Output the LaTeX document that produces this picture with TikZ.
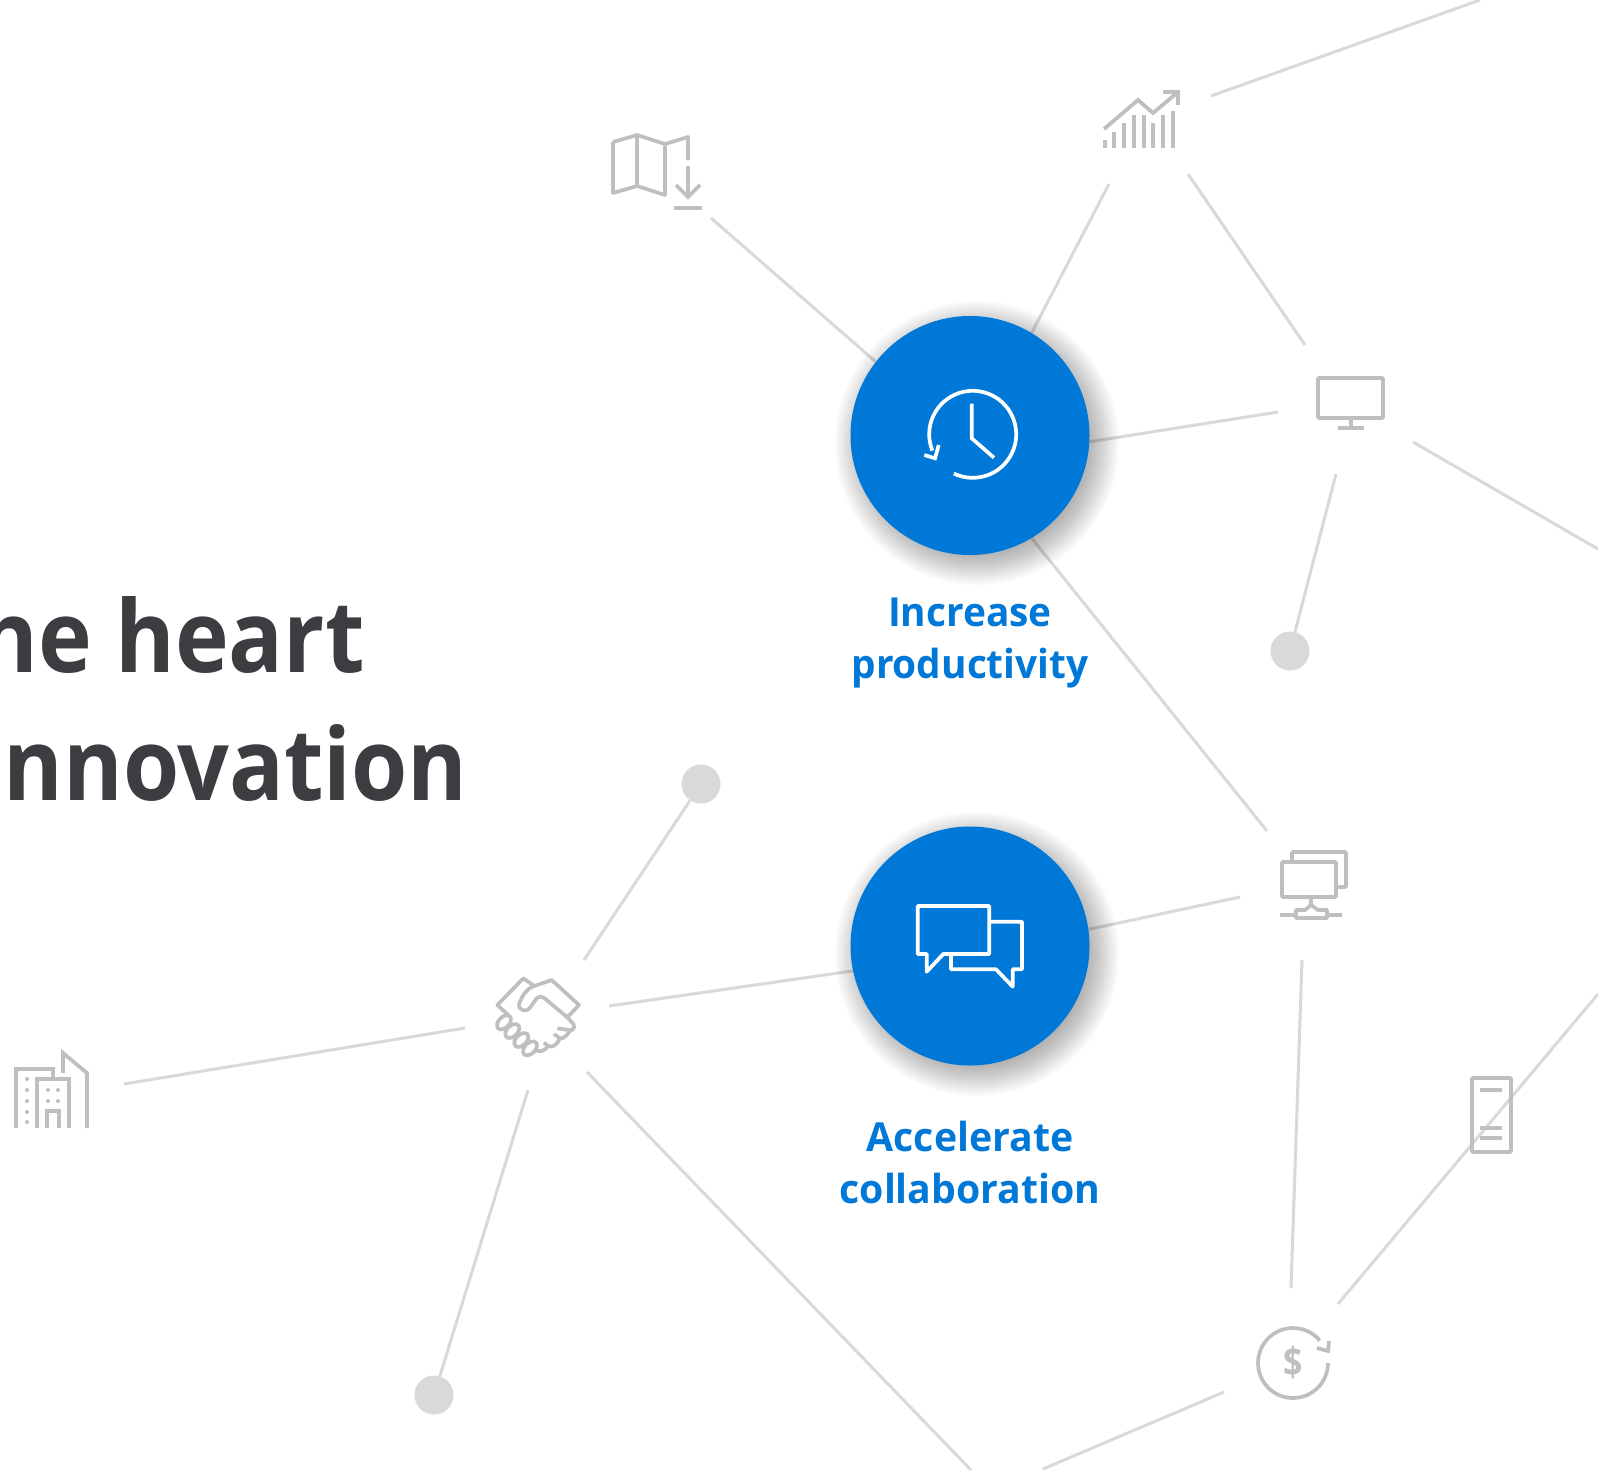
\documentclass[tikz,border=0pt]{standalone}
\usepackage{fontspec}
\setmainfont{Open Sans}
\usetikzlibrary{backgrounds}
\definecolor{linegray}{HTML}{D9D9D9}
\definecolor{icongray}{HTML}{BFBFBF}
\definecolor{dotgray}{HTML}{D9D9D9}
\definecolor{hubblue}{HTML}{0078D7}
\definecolor{titlecol}{HTML}{3C3C41}
\tikzset{
  link/.style={draw=linegray,line width=3pt},
  hub/.style={circle,fill=hubblue,minimum size=239pt,inner sep=0pt},
  enddot/.style={circle,fill=dotgray,minimum size=39pt,inner sep=0pt},
  grayicon/.style={draw=icongray,line width=3.7pt,line join=miter,fill=none},
  whiteicon/.style={draw=white,line width=3.7pt,line join=round,fill=none},
  bigtitle/.style={text=titlecol,inner sep=0pt,font=\bfseries\fontsize{100}{100}\selectfont},
  hublabel/.style={text=hubblue,inner sep=0pt,align=center,font=\bfseries\fontsize{40}{52}\selectfont},
}
\begin{document}
\begin{tikzpicture}[x=1pt,y=-1pt]
\useasboundingbox (0,0) rectangle (1598,1470);
\clip (0,0) rectangle (1598,1470);

% free ends of the connectors
\coordinate (mapEnd) at (711,218);
\coordinate (chartA) at (1109,184);
\coordinate (chartB) at (1188,174);
\coordinate (chartC) at (1211,96);
\coordinate (topEdge) at (1480,0);
\coordinate (monA) at (1278,412);
\coordinate (monB) at (1305,345);
\coordinate (monC) at (1413,442);
\coordinate (monD) at (1336,474);
\coordinate (rightA) at (1598,549);
\coordinate (netA) at (1267,831);
\coordinate (netB) at (1240,897);
\coordinate (netC) at (1302,960);
\coordinate (dolA) at (1291,1288);
\coordinate (dolB) at (1338,1304);
\coordinate (dolC) at (1224,1392);
\coordinate (rightB) at (1598,994);
\coordinate (botA) at (971,1470);
\coordinate (botB) at (1043,1469);
\coordinate (shakeA) at (609,1006);
\coordinate (shakeB) at (584,960);
\coordinate (shakeC) at (465,1028);
\coordinate (shakeD) at (528,1090);
\coordinate (shakeE) at (587,1072);
\coordinate (bldg) at (124,1084);

% hubs and end dots
\node[hub] (hubA) at (970,435.5) {};
\node[hub] (hubB) at (970,946) {};
\node[enddot] (dotA) at (1290,651) {};
\node[enddot] (dotB) at (701,784) {};
\node[enddot] (dotC) at (434,1395) {};

\begin{scope}[on background layer]
  \fill[white] (0,0) rectangle (1598,1470);
  \draw[link] (mapEnd) -- (hubA.142.7);
  \draw[link] (chartA) -- (hubA.59.8);
  \draw[link] (chartC) -- (topEdge);
  \draw[link] (chartB) -- (monB);
  \draw[link] (hubA.357) -- (monA);
  \draw[link] (monC) -- (rightA);
  \draw[link] (monD) -- (dotA);
  \draw[link] (hubA.301.2) -- (netA);
  \draw[link] (hubB.8.1) -- (netB);
  \draw[link] (netC) -- (dolA);
  \draw[link] (dolB) -- (rightB);
  \draw[link] (botB) -- (dolC);
  \draw[link] (shakeA) -- (hubB.192.4);
  \draw[link] (shakeB) -- (dotB);
  \draw[link] (bldg) -- (shakeC);
  \draw[link] (shakeD) -- (dotC);
  \draw[link] (shakeE) -- (botA);
  \foreach \r in {106,108,...,142}{
    \fill[black,fill opacity=.018] (977,443) circle[radius=\r];
    \fill[black,fill opacity=.018] (977,954) circle[radius=\r];
  }
\end{scope}

% title
\node[bigtitle,anchor=base east] (titleA) at (365,672) {\scalebox{.91}[1]{the heart}};
\node[bigtitle,anchor=base east] (titleB) at (468,800) {\scalebox{.91}[1]{innovation}};

% hub labels
\node[hublabel,anchor=base] (labelA) at (970,678) {\scalebox{.97}[1]{Increase}\\\scalebox{.97}[1]{productivity}};
\node[hublabel,anchor=base] (labelB) at (970,1203) {\scalebox{.98}[1]{Accelerate}\\\scalebox{.98}[1]{collaboration}};

% clock
\draw[whiteicon] (972.7,434.3) ++(115.6:43.5) arc[start angle=115.6,end angle=-202,radius=43.5];
\draw[whiteicon,line join=miter] (971.7,403.7) -- (971.7,438.3) -- (994,457.7);
\draw[whiteicon,line join=miter] (924.3,455) -- (935,458.3) -- (938.7,445);

% chat
\draw[whiteicon] (917.7,906) -- (989.3,906) -- (989.3,954) -- (943.3,954) -- (926.7,971.7) -- (926.7,954) -- (917.7,954) -- cycle;
\draw[whiteicon] (989.3,921.7) -- (1022,921.7) -- (1022,969.3) -- (1012.7,969.3) -- (1012.7,986.7) -- (996,969.3) -- (951,969.3) -- (951,956);

% map
\draw[grayicon,line join=round] (613,142) -- (637,135) -- (665,144) -- (688,137) -- (688,160);
\draw[grayicon,line join=round] (613,142) -- (613,193) -- (637,186) -- (665,195) -- (665,144);
\draw[grayicon] (637,135) -- (637,186);
\draw[grayicon] (688,166) -- (688,197);
\draw[grayicon] (676,185) -- (688,197) -- (700,185);
\draw[grayicon] (674,208) -- (702,208);

% chart
\draw[grayicon,line width=3.8pt] (1104,129) -- (1138,100) -- (1153,113) -- (1178,92);
\draw[grayicon,line width=3.8pt] (1163,92) -- (1178,92) -- (1178,105);
\foreach \bx/\by in {1105/140,1114/132,1124/123,1134/115,1144/115,1153/123,1163/115,1173/111}
  \draw[grayicon,line width=4pt] (\bx,\by) -- (\bx,148);

% monitor
\draw[grayicon,rounded corners=1pt] (1318,378) rectangle (1383,418);
\draw[grayicon] (1351,418) -- (1351,428);
\draw[grayicon,line width=4pt] (1338,428) -- (1364,428);

% network
\draw[grayicon,rounded corners=1pt] (1282,862) rectangle (1336,897);
\draw[grayicon,rounded corners=1pt] (1292,862) -- (1292,852) -- (1346,852) -- (1346,887) -- (1336,887);
\draw[grayicon] (1311,897) -- (1311,905);
\draw[grayicon,line join=round] (1296,910) -- (1305,910) -- (1311,905) -- (1318,910) -- (1327,910) -- (1327,918) -- (1296,918) -- cycle;
\draw[grayicon] (1280,915) -- (1296,915);
\draw[grayicon] (1327,915) -- (1342,915);

% server
\draw[grayicon,rounded corners=1pt] (1472,1078) rectangle (1511,1152);
\draw[grayicon] (1480,1090) -- (1502,1090);
\draw[grayicon] (1480,1128) -- (1502,1128);
\draw[grayicon] (1480,1138) -- (1502,1138);

% dollar
\draw[grayicon] (1328,1363) arc[start angle=0,end angle=320,radius=35];
\draw[grayicon] (1329,1341) -- (1328,1351) -- (1317,1348);
\node[text=icongray,inner sep=0pt,font=\bfseries\fontsize{40}{40}\selectfont] (dollar) at (1293,1362) {\scalebox{.85}[1]{\$}};

% building
\draw[grayicon] (16,1128) -- (16,1069) -- (53,1069) -- (53,1078);
\draw[grayicon] (37,1128) -- (37,1079) -- (69,1079) -- (69,1128);
\draw[grayicon] (47,1128) -- (47,1111) -- (59,1111) -- (59,1128);
\draw[grayicon] (63,1073) -- (63,1053) -- (87,1073) -- (87,1128);
\foreach \dx/\dy in {27/1079,27/1090,27/1101,27/1112,27/1122,48/1090,58/1090,48/1101,58/1101}
  \fill[icongray] (\dx,\dy) circle[radius=2];

% handshake
\begin{scope}[shift={(480,960)},x=.3333pt,y=-.3333pt]
  \draw[grayicon,line join=round] (85,165) -- (52,135) -- (130,55) -- (163,78) -- (215,60) -- (297,135) -- (262,172);
  \draw[grayicon,line join=round] (163,78) .. controls (140,85) and (128,105) .. (118,130) .. controls (112,150) and (138,160) .. (150,143) -- (168,118) .. controls (175,108) and (185,108) .. (195,116) -- (262,172) -- (280,192) .. controls (288,205) and (275,215) .. (265,210) -- (232,205);
  \draw[grayicon,line join=round] (270,212) .. controls (262,225) and (250,238) .. (240,235) -- (222,222);
  \draw[grayicon,line join=round] (240,235) .. controls (232,252) and (218,265) .. (205,258) -- (192,248);
  \draw[grayicon,line join=round] (205,258) .. controls (195,272) and (178,280) .. (165,268);
  \foreach \fx/\fy in {72/187,97/213,124/240,150/265}
    \draw[grayicon] (\fx,\fy) ellipse[x radius=25,y radius=16,rotate=45];
\end{scope}
\end{tikzpicture}
\end{document}
